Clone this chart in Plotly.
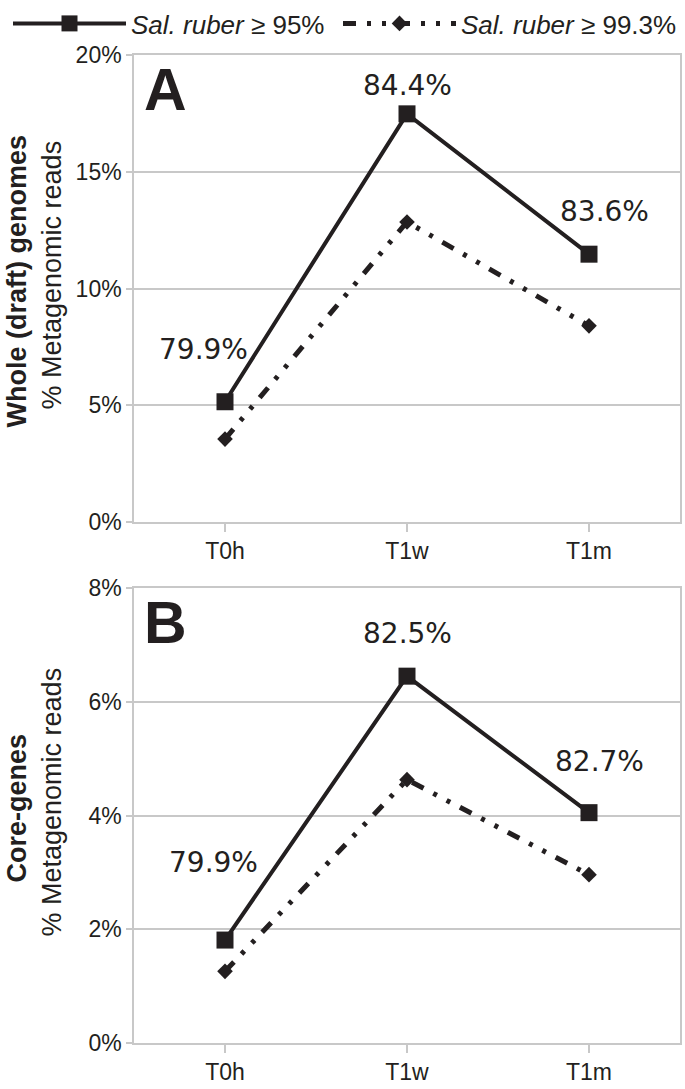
import plotly.graph_objects as go

categories = ["T0h", "T1w", "T1m"]
series_names = ["<i>Sal. ruber</i> ≥ 95%", "<i>Sal. ruber</i> ≥ 99.3%"]

# Panel A: Whole (draft) genomes, % metagenomic reads
a_95 = [5.15, 17.48, 11.47]
a_993 = [3.55, 12.85, 8.4]
a_labels = ["79.9%", "84.4%", "83.6%"]

# Panel B: Core-genes, % metagenomic reads
b_95 = [1.81, 6.45, 4.05]
b_993 = [1.26, 4.63, 2.96]
b_labels = ["79.9%", "82.5%", "82.7%"]

INK = "#231f20"
GRID = "#c8c8c8"
DASH2 = "13px,11px,4px,11px,4px,11px"

fig = go.Figure()

for xa, ya, s95, s993, show in [("x", "y", a_95, a_993, True), ("x2", "y2", b_95, b_993, False)]:
    fig.add_trace(go.Scatter(
        x=categories, y=s95, xaxis=xa, yaxis=ya, name=series_names[0],
        mode="lines+markers", showlegend=show, legend="legend",
        line=dict(color=INK, width=4),
        marker=dict(symbol="square", size=17, color=INK),
    ))
    fig.add_trace(go.Scatter(
        x=categories, y=s993, xaxis=xa, yaxis=ya, name=series_names[1],
        mode="lines+markers", showlegend=show, legend="legend2",
        line=dict(color=INK, width=5, dash=DASH2),
        marker=dict(symbol="diamond", size=12, color=INK),
    ))

# percentage labels above the >=95% points
a_shifts = [(-22, 52), (0, 28), (15, 43)]
b_shifts = [(-12, 78), (0, 43), (10, 51)]
annotations = []
for xa, ya, vals, labs, shifts in [("x", "y", a_95, a_labels, a_shifts), ("x2", "y2", b_95, b_labels, b_shifts)]:
    for c, v, t, (dx, dy) in zip(categories, vals, labs, shifts):
        annotations.append(dict(
            x=c, y=v, xref=xa, yref=ya, text=t, showarrow=False,
            xshift=dx, yshift=dy,
            font=dict(family="DejaVu Sans", size=28, color=INK),
        ))

# panel letters
for xr, yr, letter in [("x domain", "y domain", "A"), ("x2 domain", "y2 domain", "B")]:
    annotations.append(dict(
        x=0.014, y=1.0, xref=xr, yref=yr, xanchor="left", yanchor="top",
        text="<b>%s</b>" % letter, showarrow=False,
        font=dict(family="Liberation Sans", size=59, color=INK),
    ))

# axis titles
for yr, main in [("y domain", "Whole (draft) genomes"), ("y2 domain", "Core-genes")]:
    annotations.append(dict(
        x=(16 - 134) / 546, y=0.5, xref="paper", yref=yr, textangle=-90,
        text="<b>%s</b>" % main, showarrow=False, xanchor="center", yanchor="middle",
        yshift=7,
        font=dict(family="Liberation Sans", size=27, color=INK),
    ))
    annotations.append(dict(
        x=(51 - 134) / 546, y=0.5, xref="paper", yref=yr, textangle=-90,
        text="% Metagenomic reads", showarrow=False, xanchor="center", yanchor="middle",
        yshift=13,
        font=dict(family="Liberation Sans", size=27, color=INK),
    ))

H = 1089
top, bot = 55, 46
ph = H - top - bot
dom_a = [(1043 - 522) / ph, 1.0]
dom_b = [0.0, (1043 - 588) / ph]

axis_common = dict(
    showline=True, linecolor=GRID, linewidth=1.5, mirror=True,
    tickfont=dict(family="Liberation Sans", size=23, color=INK),
    ticks="outside", tickcolor=GRID, tickwidth=1.5,
)

legend_common = dict(
    orientation="h", xref="container", yref="container",
    y=1.0, xanchor="left", yanchor="top",
    font=dict(family="Liberation Sans", size=26, color=INK),
    itemwidth=113, bgcolor="rgba(0,0,0,0)",
)

fig.update_layout(
    width=685, height=H,
    margin=dict(l=134, r=5, t=top, b=bot, autoexpand=False),
    paper_bgcolor="white", plot_bgcolor="white",
    showlegend=True,
    legend=dict(x=8 / 685, **legend_common),
    legend2=dict(x=338 / 685, **legend_common),
    annotations=annotations,
    xaxis=dict(anchor="y", domain=[0, 1], range=[-0.5, 2.5], ticklen=8,
               showgrid=False, **axis_common),
    yaxis=dict(anchor="x", domain=dom_a, range=[0, 20], dtick=5, ticksuffix="%",
               ticklen=6, showgrid=True, gridcolor=GRID, gridwidth=1.5,
               zeroline=False, **axis_common),
    xaxis2=dict(anchor="y2", domain=[0, 1], range=[-0.5, 2.5], ticklen=8,
                showgrid=False, **axis_common),
    yaxis2=dict(anchor="x2", domain=dom_b, range=[0, 8], dtick=2, ticksuffix="%",
                ticklen=6, showgrid=True, gridcolor=GRID, gridwidth=1.5,
                zeroline=False, **axis_common),
)

fig.write_html("out.html", config={"displayModeBar": False},
               post_script="document.body.style.margin='0';")
